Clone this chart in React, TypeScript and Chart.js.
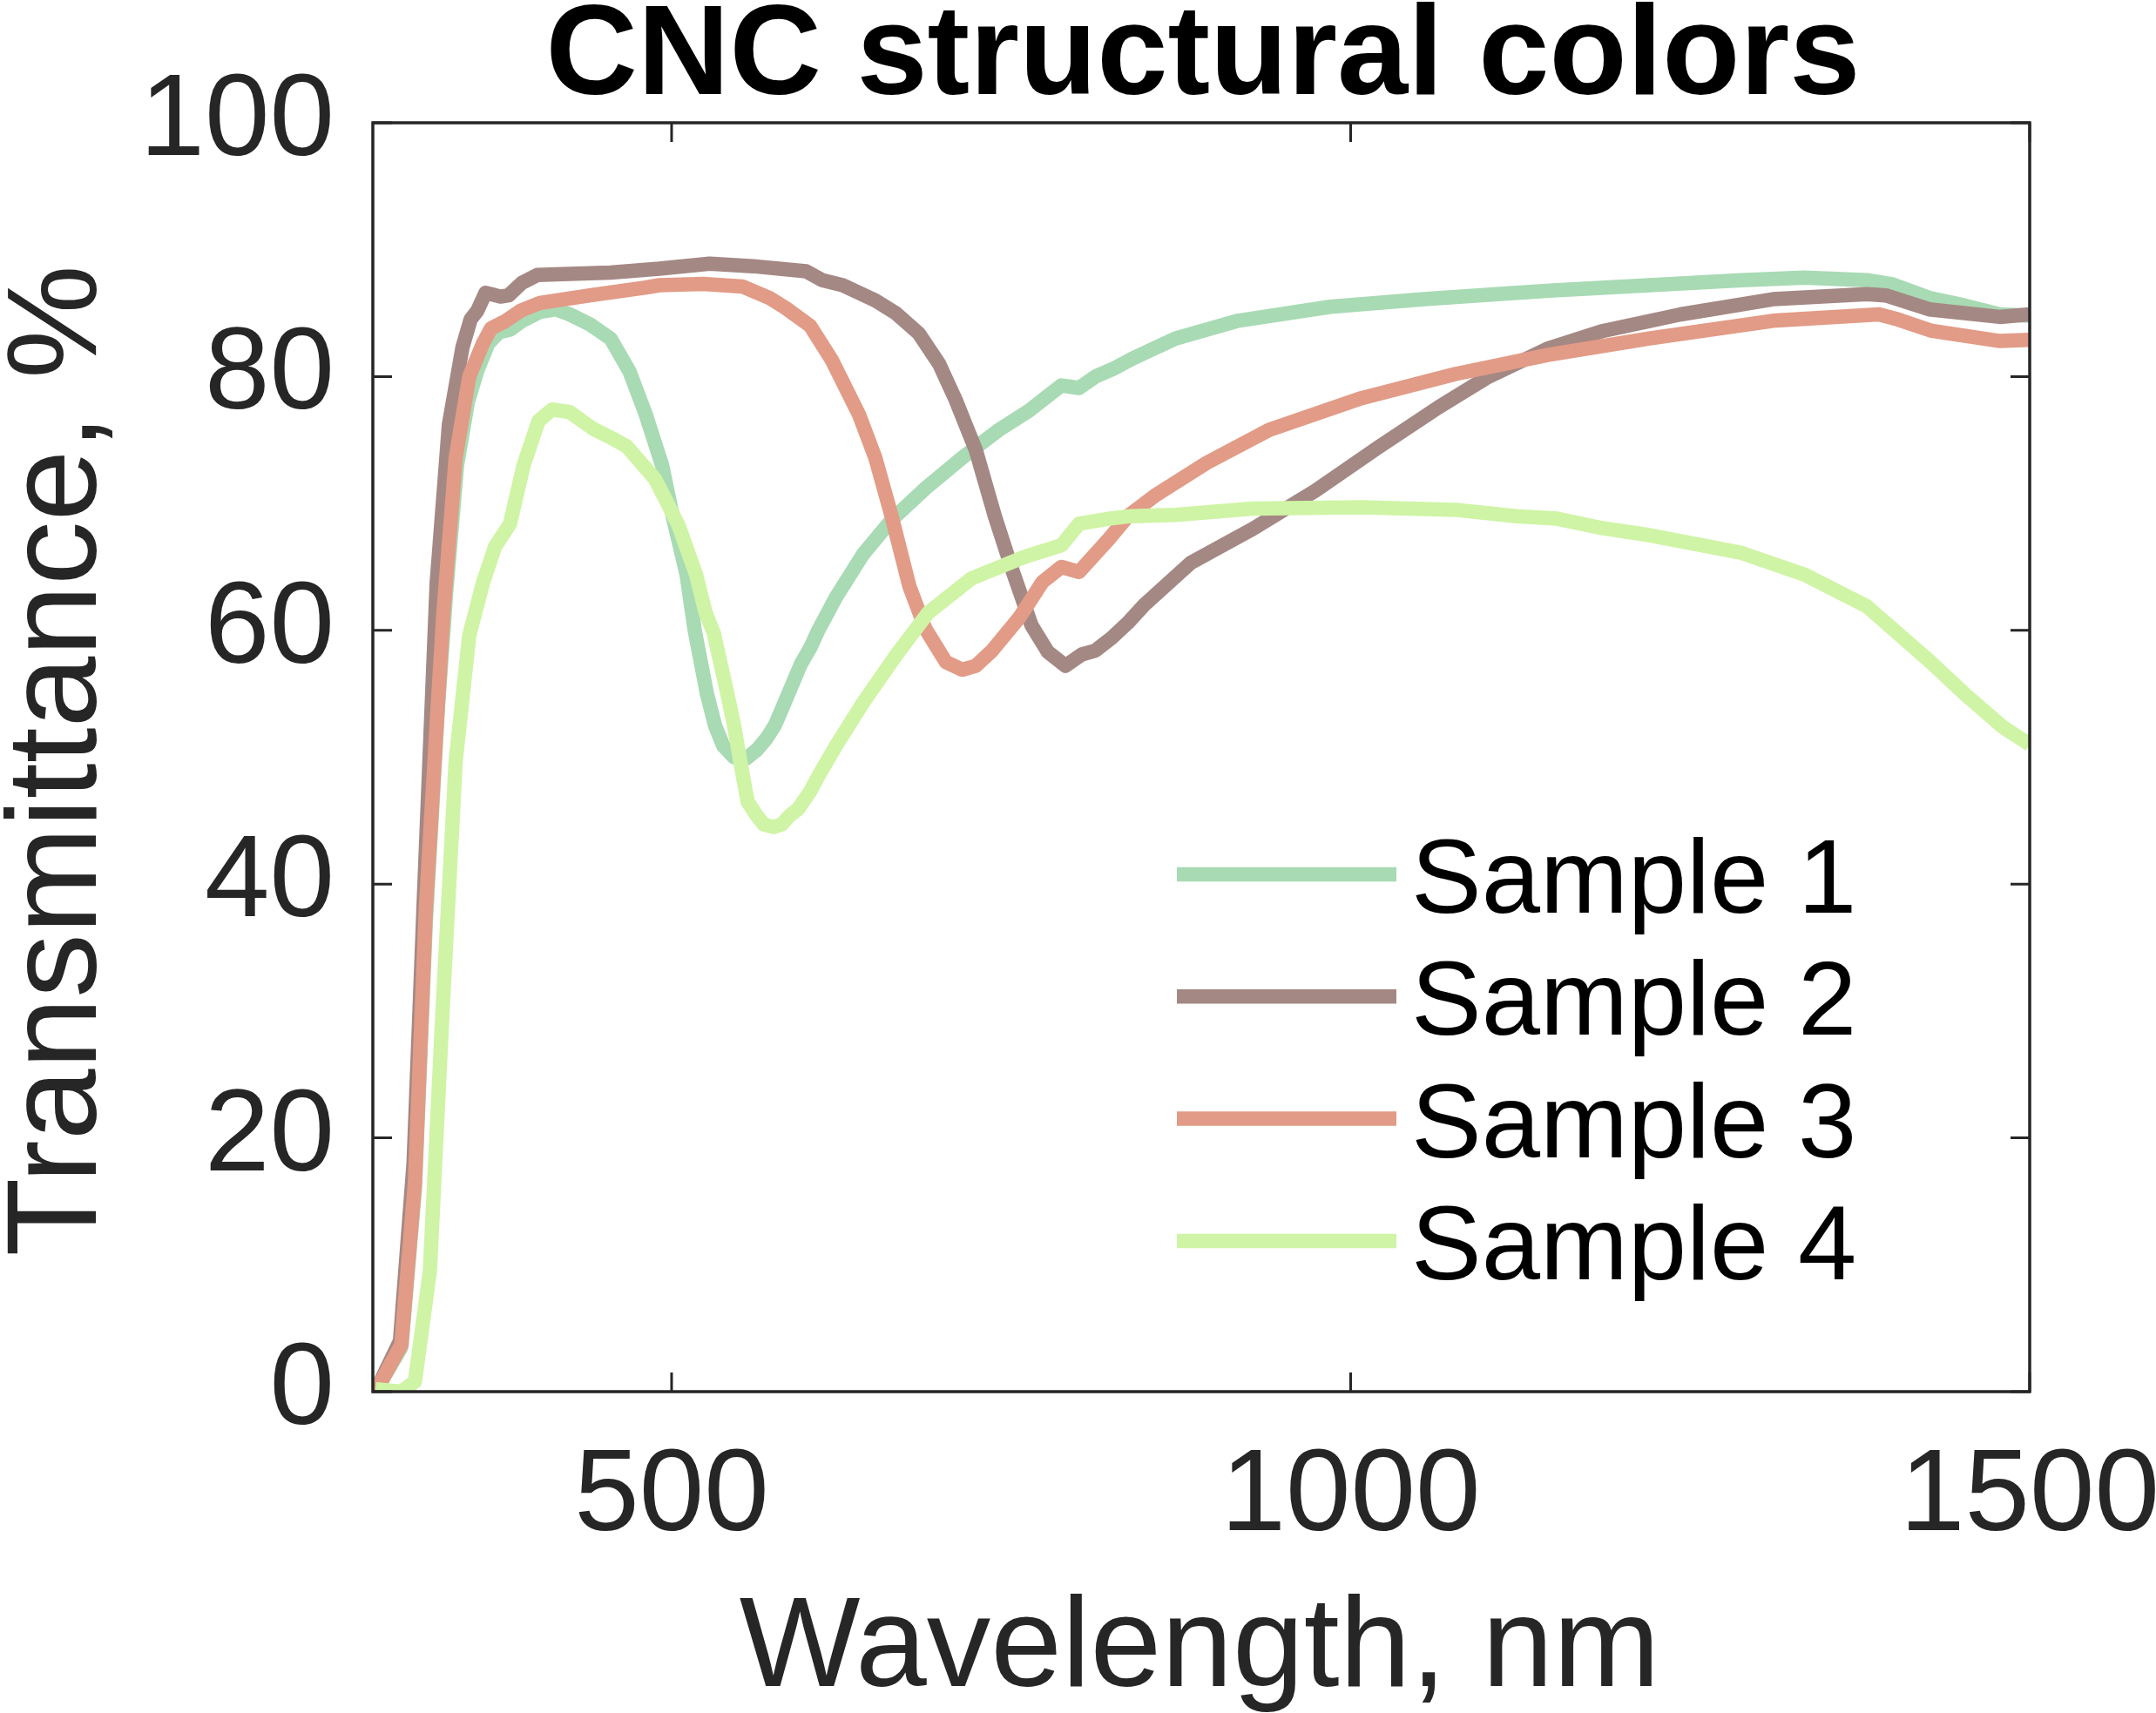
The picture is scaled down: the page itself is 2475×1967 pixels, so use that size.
import { useEffect, useRef } from 'react';
import { Chart, registerables } from 'chart.js';

Chart.register(...registerables);

const FONT = '"Liberation Sans", Arial, Helvetica, sans-serif';
const AXIS_COLOR = '#262626';

const titleText = 'CNC structural colors';
const xAxisTitle = 'Wavelength, nm';
const yAxisTitle = 'Transmittance, %';

const xTicks = [500, 1000, 1500];
const yTicks = [0, 20, 40, 60, 80, 100];

const seriesNames = ['Sample 1', 'Sample 2', 'Sample 3', 'Sample 4'];
const seriesColors = ['#a8dab4', '#a48884', '#e29b86', '#cff4a5'];

// Sample 1
const s1Wave = [282, 301, 311, 319, 328, 334, 342, 350, 357, 365, 373, 381, 390, 403, 415, 425, 440, 455, 469, 481, 493, 501, 511, 517, 526, 532, 538, 546, 555, 563, 570, 576, 582, 595, 602, 608, 621, 641, 662, 687, 714, 741, 763, 787, 800, 812, 825, 839, 871, 917, 985, 1054, 1122, 1152, 1220, 1288, 1334, 1380, 1398, 1426, 1448, 1478, 1500];
const s1Trans = [0, 3.5, 16, 37, 54, 63, 73, 78, 80.5, 82.6, 83.5, 83.7, 84.4, 85.1, 85.3, 84.9, 84.1, 83, 80.4, 77, 73, 68.9, 64.4, 60, 55, 52.5, 50.9, 50, 49.9, 50.6, 51.5, 52.5, 54, 57.3, 58.6, 60, 62.6, 66, 68.7, 71.2, 73.6, 75.8, 77.3, 79.3, 79.1, 80, 80.6, 81.4, 83, 84.4, 85.5, 86.1, 86.6, 86.8, 87.2, 87.6, 87.8, 87.6, 87.3, 86.2, 85.7, 84.9, 84.8];

// Sample 2
const s2Wave = [282, 300, 310, 318, 327, 336, 346, 352, 357, 363, 367, 374, 380, 390, 401, 425, 455, 491, 528, 560, 599, 611, 626, 650, 665, 682, 697, 709, 724, 738, 751, 765, 777, 790, 802, 812, 824, 836, 848, 882, 928, 974, 1020, 1065, 1100, 1145, 1186, 1243, 1311, 1380, 1394, 1426, 1478, 1500];
const s2Trans = [0, 4, 18, 40, 63.7, 76.2, 82.3, 84.5, 85.2, 86.6, 86.5, 86.3, 86.4, 87.4, 88, 88.1, 88.2, 88.5, 88.9, 88.7, 88.3, 87.6, 87.2, 86, 85, 83.4, 81, 78.2, 74.2, 69, 64.7, 60.4, 58.3, 57.2, 58.1, 58.4, 59.4, 60.6, 62, 65.3, 68, 71, 74.4, 77.6, 79.9, 82.2, 83.6, 84.9, 86.1, 86.5, 86.4, 85.3, 84.7, 84.9];

// Sample 3
const s3Wave = [282, 301, 311, 319, 328, 332, 341, 351, 361, 367, 378, 389, 403, 440, 480, 491, 523, 552, 572, 584, 602, 618, 638, 650, 662, 675, 687, 702, 714, 724, 736, 756, 773, 787, 800, 822, 836, 857, 894, 940, 1008, 1077, 1145, 1220, 1311, 1389, 1403, 1428, 1478, 1500];
const s3Trans = [0, 3.7, 16.5, 38, 54.4, 61.4, 73.6, 80, 82.6, 83.8, 84.4, 85.2, 85.8, 86.4, 87, 87.2, 87.3, 87.1, 86.2, 85.4, 84, 81.3, 77, 73.6, 69, 63.5, 60.1, 57.5, 56.9, 57.2, 58.4, 61, 63.8, 65, 64.6, 67.2, 69, 70.7, 73.2, 75.8, 78.3, 80.2, 81.7, 83, 84.4, 84.9, 84.5, 83.6, 82.8, 82.9];

// Sample 4
const s4Wave = [282, 301, 311, 322, 331, 341, 351, 361, 370, 381, 391, 402, 412, 425, 442, 455, 467, 488, 505, 518, 525, 531, 540, 546, 552, 556, 562, 568, 575, 581, 587, 593, 602, 608, 621, 641, 665, 689, 721, 760, 787, 800, 822, 838, 871, 928, 1008, 1077, 1122, 1152, 1183, 1220, 1288, 1334, 1380, 1426, 1452, 1480, 1500];
const s4Trans = [0.2, 0, 0.8, 9.5, 29.3, 49.7, 59.6, 63.7, 66.6, 68.4, 73, 76.5, 77.4, 77.2, 75.9, 75.2, 74.5, 71.9, 68.3, 64.4, 61.4, 59.8, 55.5, 52.5, 48.8, 46.5, 45.5, 44.7, 44.5, 44.7, 45.4, 45.9, 47.3, 48.5, 50.9, 54.3, 58, 61.4, 64.1, 65.8, 66.7, 68.4, 68.8, 69, 69.1, 69.6, 69.7, 69.5, 69, 68.8, 68.1, 67.5, 66.1, 64.4, 61.9, 57.6, 55, 52.4, 51];

const waves = [s1Wave, s2Wave, s3Wave, s4Wave];
const trans = [s1Trans, s2Trans, s3Trans, s4Trans];

const LINE_W = 16.5;

const decorPlugin = {
  id: 'decor',
  afterDatasetsDraw(chart: Chart) {
    const { ctx, chartArea: a, scales } = chart;
    ctx.save();
    ctx.strokeStyle = AXIS_COLOR;
    ctx.lineWidth = 3.5;
    ctx.strokeRect(a.left, a.top, a.right - a.left, a.bottom - a.top);
    ctx.lineWidth = 3;
    const tl = 22;
    ctx.beginPath();
    xTicks.forEach((v) => {
      const px = scales.x.getPixelForValue(v);
      ctx.moveTo(px, a.bottom);
      ctx.lineTo(px, a.bottom - tl);
      ctx.moveTo(px, a.top);
      ctx.lineTo(px, a.top + tl);
    });
    yTicks.forEach((v) => {
      const py = scales.y.getPixelForValue(v);
      ctx.moveTo(a.left, py);
      ctx.lineTo(a.left + tl, py);
      ctx.moveTo(a.right, py);
      ctx.lineTo(a.right - tl, py);
    });
    ctx.stroke();
    ctx.restore();
  },
  afterDraw(chart: Chart) {
    const { ctx, chartArea: a } = chart;
    const cx = (a.left + a.right) / 2;
    const cy = (a.top + a.bottom) / 2;
    ctx.save();
    ctx.textBaseline = 'alphabetic';

    // title
    ctx.fillStyle = '#000';
    ctx.textAlign = 'center';
    ctx.font = `bold 146px ${FONT}`;
    ctx.fillText(titleText, cx + 2, 108);

    // axis titles
    ctx.fillStyle = AXIS_COLOR;
    ctx.font = `147px ${FONT}`;
    ctx.fillText(xAxisTitle, cx - 2, 1936);
    ctx.save();
    ctx.translate(110, cy + 4);
    ctx.rotate(-Math.PI / 2);
    ctx.fillText(yAxisTitle, 0, 0);
    ctx.restore();

    // legend (no box)
    ctx.textAlign = 'left';
    ctx.font = `121px ${FONT}`;
    seriesNames.forEach((name, i) => {
      const y = 1004 + i * 140.3;
      ctx.strokeStyle = seriesColors[i];
      ctx.lineWidth = LINE_W;
      ctx.beginPath();
      ctx.moveTo(1351, y);
      ctx.lineTo(1603, y);
      ctx.stroke();
      ctx.fillStyle = '#000';
      ctx.fillText(name, 1620, y + 44);
    });
    ctx.restore();
  },
};

function CncChart() {
  const canvasRef = useRef<HTMLCanvasElement>(null);
  const chartRef = useRef<Chart | null>(null);

  useEffect(() => {
    if (!canvasRef.current) return;
    if (chartRef.current) chartRef.current.destroy();

    chartRef.current = new Chart(canvasRef.current, {
      type: 'line',
      data: {
        datasets: seriesNames.map((name, i) => ({
          label: name,
          data: waves[i].map((w, k) => ({ x: w, y: trans[i][k] })),
          borderColor: seriesColors[i],
          backgroundColor: seriesColors[i],
          borderWidth: LINE_W,
          borderJoinStyle: 'round' as const,
          pointRadius: 0,
          tension: 0,
          fill: false,
          // later samples drawn on top
          order: seriesNames.length - i,
        })),
      },
      options: {
        responsive: false,
        animation: false,
        devicePixelRatio: 1,
        layout: { padding: { left: 0, right: 145, top: 141, bottom: 0 } },
        plugins: {
          legend: { display: false },
          title: { display: false },
          tooltip: { enabled: false },
        },
        scales: {
          x: {
            type: 'linear',
            min: 280,
            max: 1500,
            grid: { display: false, drawTicks: false },
            border: { display: false },
            afterBuildTicks: (scale) => {
              scale.ticks = xTicks.map((v) => ({ value: v }));
            },
            afterFit: (scale) => {
              scale.height = 369;
              scale.paddingLeft = 0;
              scale.paddingRight = 0;
            },
            ticks: {
              autoSkip: false,
              maxRotation: 0,
              padding: 42,
              color: AXIS_COLOR,
              font: { family: FONT, size: 134 },
              callback: (v) => String(v),
            },
          },
          y: {
            type: 'linear',
            min: 0,
            max: 100,
            grid: { display: false, drawTicks: false },
            border: { display: false },
            afterBuildTicks: (scale) => {
              scale.ticks = yTicks.map((v) => ({ value: v }));
            },
            afterFit: (scale) => {
              scale.width = 428;
              scale.paddingTop = 0;
              scale.paddingBottom = 0;
            },
            ticks: {
              padding: 44,
              color: AXIS_COLOR,
              font: { family: FONT, size: 134 },
              callback: (v) => String(v),
            },
          },
        },
      },
      plugins: [decorPlugin],
    });

    return () => {
      if (chartRef.current) {
        chartRef.current.destroy();
        chartRef.current = null;
      }
    };
  }, []);

  return <canvas ref={canvasRef} width={2475} height={1967} style={{ display: 'block' }} />;
}

export default function App() {
  return (
    <div style={{ position: 'fixed', left: 0, top: 0, width: 2475, height: 1967, background: '#fff' }}>
      <CncChart />
    </div>
  );
}
